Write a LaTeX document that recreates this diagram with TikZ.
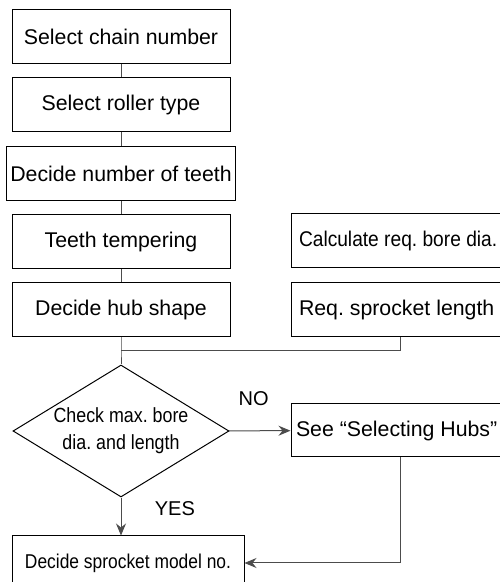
\documentclass[tikz,border=0pt]{standalone}
\usepackage{fontspec}
\setmainfont{Liberation Sans}
\newfontfamily\narrowfont[FakeStretch=0.87]{Liberation Sans}
\newfontfamily\slimfont[FakeStretch=0.90]{Liberation Sans}
\usetikzlibrary{arrows.meta, shapes.geometric}
\frenchspacing

\begin{document}
\begin{tikzpicture}[x=1pt, y=1pt,
		mybox/.style={
			draw,
			line width=1pt,
			minimum width=218pt,
			minimum height=54pt,
			inner sep=4pt,
			font=\fontsize{21.3}{25}\selectfont,
		},
		sidebox/.style={
			mybox,
			inner xsep=0pt,
		},
		mydiamond/.style={
			draw,
			diamond,
			aspect=1.64,
			line width=1pt,
			minimum width=216pt,
			minimum height=132pt,
			inner sep=0pt,
			align=center,
			font=\narrowfont\fontsize{20.5}{27}\selectfont,
		},
		myedge/.style={
			line width=1pt,
			draw=black!70,
		},
		myarrow/.style={
			myedge,
			-{Stealth[length=12pt, width=10pt, inset=4pt]},
		},
		mylabel/.style={
			font=\fontsize{20}{24}\selectfont,
		}
	]

		\useasboundingbox (0,0) rectangle (500,582);
		\clip (0,0) rectangle (500,582);

		% Colonne de gauche
		\node[mybox] (chain) at (121,545) {Select chain number};
		\node[mybox] (roller) at (121,477) {Select roller type};
		\node[mybox] (teeth) at (121,408.5) {Decide number of teeth};
		\node[mybox] (temper) at (121,340.5) {Teeth tempering};
		\node[mybox] (hub) at (121,272.5) {Decide hub shape};

		% Colonne de droite
		\node[sidebox, font=\slimfont\fontsize{21.3}{25}\selectfont] (bore) at (400,341) {\makebox[202pt][l]{Calculate req. bore dia.}};
		\node[sidebox] (length) at (400,272.5) {\makebox[202pt][l]{Req. sprocket length}};

		% Decision
		\coordinate (join) at (121,231);
		\node[mydiamond] (check) at (121,151) {Check max. bore\\dia. and length};
		\node[sidebox, minimum height=53pt] (hubs) at (400,151.5) {\makebox[208pt][l]{See “Selecting Hubs”}};
		\node[mybox, minimum width=232pt, font=\narrowfont\fontsize{20}{24}\selectfont] (model) at (128,19) {Decide sprocket model no.};

		% Connexions
		\draw[myedge] (chain) -- (roller);
		\draw[myedge] (roller) -- (teeth);
		\draw[myedge] (teeth) -- (temper);
		\draw[myedge] (temper) -- (hub);
		\draw[myedge] (hub) -- (join) -- (check);
		\draw[myedge] (length) |- (join);
		\draw[myarrow] (check) -- (hubs) node[mylabel, pos=0.4, yshift=32pt] {NO};
		\draw[myarrow] (check) -- (check |- model.north) node[mylabel, midway, anchor=west, xshift=30pt, yshift=8pt] {YES};
		\draw[myarrow] (hubs) |- (model);

	\end{tikzpicture}
\end{document}
